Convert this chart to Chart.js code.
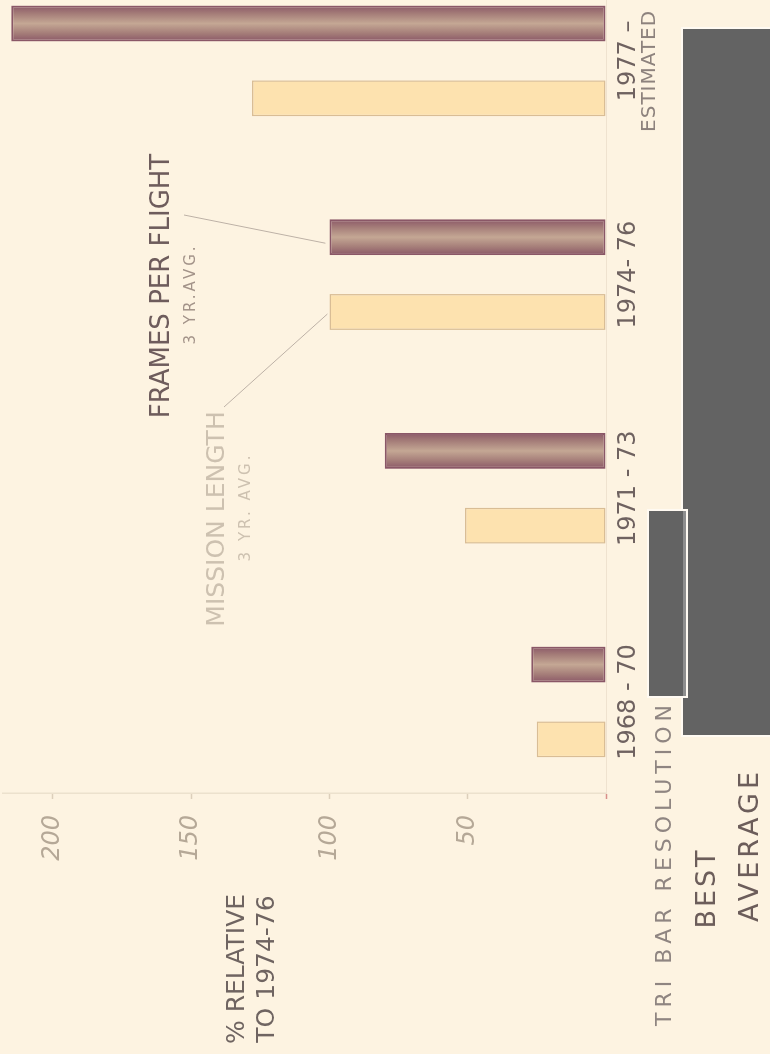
<!DOCTYPE html>
<html>
<head>
<meta charset="utf-8">
<script src="https://cdn.jsdelivr.net/npm/chart.js@4.4.1/dist/chart.umd.min.js"></script>
<style>
  html, body { margin: 0; padding: 0; width: 770px; height: 1054px; overflow: hidden; background: #fdf3e1; }
  /* the sheet is drawn landscape and turned a quarter turn, like the original board */
  #sheet { position: absolute; left: 0; top: 0; width: 1054px; height: 770px;
           transform-origin: 0 0; transform: translate(0, 1054px) rotate(-90deg); }
  .redact { position: absolute; background: #636363; }
</style>
</head>
<body>
<div id="sheet"><canvas id="myChart" width="1054" height="770" style="width:1054px;height:770px"></canvas></div>
<div class="redact" style="left:683px;top:29px;width:87px;height:706px;box-shadow:0 0 0 2px #fffaf2;"></div>
<div class="redact" style="left:649px;top:511px;width:34px;height:185px;border-right:3px solid #8e8e8e;box-shadow:0 0 0 2px #fffaf2;"></div>
<script>
// data (% relative to 1974-76)
const categories = ['1968 - 70', '1971 - 73', '1974- 76', '1977 –'];
const missionLength = [25, 51, 100, 128];
const framesPerFlight = [27, 80, 100, 215];
const valueTicks = [0, 50, 100, 150, 200];

const FONT = "'DejaVu Sans', sans-serif";

const toPoints = vals => vals.map((v, i) => ({ x: i + 1, y: v }));

// marker-style shading across each dark bar
function markerFill(c) {
    const el = c.chart.getDatasetMeta(c.datasetIndex).data[c.dataIndex];
    if (!el || el.x == null || !el.width) return '#ac8b80';
    const g = c.chart.ctx.createLinearGradient(el.x - el.width / 2, 0, el.x + el.width / 2, 0);
    g.addColorStop(0, '#8a5767');
    g.addColorStop(0.22, '#a47c78');
    g.addColorStop(0.5, '#c4a794');
    g.addColorStop(0.78, '#a47c78');
    g.addColorStop(1, '#8a5767');
    return g;
}

// hand lettering + leader lines
const notes = {
    id: 'notes',
    afterDatasetsDraw(chart) {
        const ctx = chart.ctx;
        const mission = chart.getDatasetMeta(0).data[2];
        const frames = chart.getDatasetMeta(1).data[2];
        const last = chart.scales.x.getPixelForValue(4);
        ctx.save();
        ctx.strokeStyle = '#bdb1a6';
        ctx.lineWidth = 1;
        ctx.beginPath();
        ctx.moveTo(839, 184);
        ctx.lineTo(frames.x - 6, frames.y - 4);
        ctx.moveTo(647, 224);
        ctx.lineTo(mission.x - 2, mission.y - 2);
        ctx.stroke();

        ctx.textAlign = 'center';
        ctx.textBaseline = 'middle';
        const put = (txt, x, y, size, color, spacing, style) => {
            ctx.font = (style || '') + ' ' + size + 'px ' + FONT;
            ctx.fillStyle = color;
            ctx.letterSpacing = (spacing || 0) + 'px';
            ctx.fillText(txt, x, y);
        };
        put('ESTIMATED', last - 10, 650, 20, '#8d827d', 1);
        put('FRAMES PER FLIGHT', 768, 162, 26, '#6e5c5c');
        put('3 YR.AVG.', 760, 191, 15, '#a39389', 3);
        put('MISSION LENGTH', 535, 217, 25, '#cdc1b0');
        put('3 YR. AVG.', 547, 246, 15, '#cdc1b0', 3);
        put('TRI BAR RESOLUTION', 191, 665, 22, '#8f8581', 5);
        put('BEST', 166, 708, 27, '#6c5d5a', 3);
        put('AVERAGE', 209, 751, 27, '#6c5d5a', 4);
        put('% RELATIVE', 85, 237, 25, '#6f6461');
        put('TO 1974-76', 85, 267, 25, '#6f6461');
        ctx.letterSpacing = '0px';
        ctx.restore();
    }
};

const chart = new Chart(document.getElementById('myChart'), {
    type: 'bar',
    data: {
        datasets: [{
            label: 'Mission length',
            data: toPoints(missionLength),
            backgroundColor: '#fde2af',
            borderColor: '#d9bd95',
            borderWidth: 1.5,
            borderSkipped: false,
            categoryPercentage: 0.7,
            barPercentage: 0.48
        }, {
            label: 'Frames per flight',
            data: toPoints(framesPerFlight),
            backgroundColor: markerFill,
            borderColor: '#8a5767',
            borderWidth: 2,
            borderSkipped: false,
            categoryPercentage: 0.7,
            barPercentage: 0.48
        }]
    },
    options: {
        responsive: false,
        animation: false,
        events: [],
        layout: { padding: { top: 3, left: 0, right: 0, bottom: 0 } },
        plugins: { legend: { display: false }, tooltip: { enabled: false } },
        scales: {
            x: {
                type: 'linear',
                min: 0.574,
                max: 4.285,
                offset: false,
                afterBuildTicks: s => { s.ticks = categories.map((c, i) => ({ value: i + 1 })); },
                afterFit: s => { s.height = 164; s.paddingLeft = 0; s.paddingRight = 0; },
                grid: { offset: false, drawOnChartArea: false, drawTicks: false },
                border: { color: '#efe2cf', width: 1 },
                ticks: {
                    callback: v => categories[v - 1],
                    color: '#6f6260',
                    font: { family: FONT, size: 24 },
                    padding: 8,
                    maxRotation: 0,
                    autoSkip: false
                }
            },
            y: {
                min: 0,
                max: 218,
                afterBuildTicks: s => { s.ticks = valueTicks.map(v => ({ value: v })); },
                afterFit: s => { s.width = 261; s.paddingTop = 0; s.paddingBottom = 0; },
                grid: {
                    drawOnChartArea: false,
                    tickLength: 6,
                    tickWidth: 1.5,
                    tickColor: c => (c.tick && c.tick.value === 0) ? '#d88f8a' : '#dccfbb'
                },
                border: { color: '#ece1cd', width: 1.5 },
                ticks: {
                    callback: v => v === 0 ? '' : v,
                    color: '#b5a897',
                    font: { family: FONT, size: 24, style: 'italic' },
                    padding: 16
                }
            }
        }
    },
    plugins: [notes]
});
// second pass so the gradient can use the laid-out bar positions
chart.update();
</script>
</body>
</html>
